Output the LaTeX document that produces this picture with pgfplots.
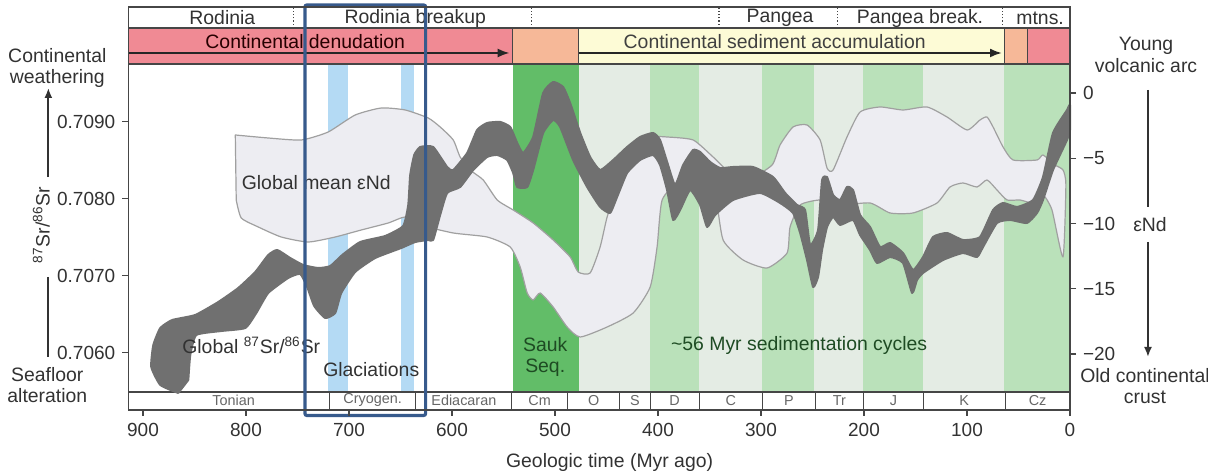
\documentclass[border=0pt]{standalone}
\usepackage{fontspec}
\setmainfont{Liberation Sans}
\usepackage{pgfplots}
\pgfplotsset{compat=1.18}
\usetikzlibrary{arrows.meta}

\definecolor{srgray}{RGB}{112,112,112}
\definecolor{ndfill}{RGB}{237,237,242}
\definecolor{ndline}{RGB}{160,160,160}
\definecolor{glacier}{RGB}{180,218,244}
\definecolor{sauk}{RGB}{98,189,104}
\definecolor{stripeL}{RGB}{228,236,228}
\definecolor{stripeG}{RGB}{186,225,186}
\definecolor{denud}{RGB}{240,138,148}
\definecolor{salmon}{RGB}{246,184,152}
\definecolor{accum}{RGB}{253,251,214}
\definecolor{hlblue}{RGB}{55,90,140}
\definecolor{axgray}{RGB}{70,70,70}
\definecolor{txtgray}{RGB}{50,50,50}
\definecolor{greentxt}{RGB}{30,75,35}

\newcommand\lbl{\fontsize{9.7}{10.6}\selectfont}
\newcommand\sml{\fontsize{7.2}{8}\selectfont}

\begin{document}
\begin{tikzpicture}
\useasboundingbox (-64.15pt,-32.5pt) rectangle (539.85pt,205pt);

% ---- axis 1: eNd (backgrounds, eNd band, header, periods, right ticks)
\begin{axis}[
  at={(0,0)}, anchor=south west,
  width=470.85pt, height=201.5pt, scale only axis,
  xmin=0, xmax=914.3, x dir=reverse,
  ymin=-24.291, ymax=6.590,
  hide x axis, axis y line*=right,
  ytick={-20,-15,-10,-5,0},
  yticklabels={−20,−15,−10,−5,0},
  tick align=outside, major tick length=3pt,
  every tick/.style={axgray, line width=0.6pt},
  y axis line style={axgray, line width=0.6pt},
  every tick label/.append style={font=\fontsize{9.5}{10}\selectfont, text=txtgray},
  clip=false,
]
% plot area background
\fill[white] (914.3,-22.912) rectangle (0,2.222);
\fill[glacier] (720.2,-22.912) rectangle (700.8,2.222);
\fill[glacier] (649.3,-22.912) rectangle (636.7,2.222);
\fill[sauk] (541,-22.912) rectangle (476.9,2.222);
\fill[stripeL] (476.9,-22.912) rectangle (407.6,2.222);
\fill[stripeG] (407.6,-22.912) rectangle (360,2.222);
\fill[stripeL] (360,-22.912) rectangle (298.6,2.222);
\fill[stripeG] (298.6,-22.912) rectangle (249,2.222);
\fill[stripeL] (249,-22.912) rectangle (201,2.222);
\fill[stripeG] (201,-22.912) rectangle (143,2.222);
\fill[stripeL] (143,-22.912) rectangle (64,2.222);
\fill[stripeG] (64,-22.912) rectangle (0,2.222);

% global mean eNd envelope
\addplot[fill=ndfill, draw=ndline, line width=0.6pt, line join=round, smooth, tension=0.35] coordinates {
 (810.4,-3.218) (778.4,-3.448) (746.4,-3.601) (720.2,-2.988) (694.0,-1.686) (668.7,-1.150)
 (645.4,-1.303) (623.1,-1.916) (611.5,-2.605) (598.8,-3.601) (592.1,-4.904) (582.4,-5.900)
 (569.7,-6.666) (556.1,-8.199) (540.6,-8.965) (521.2,-9.961) (501.8,-11.264) (485.3,-12.567)
 (477.5,-13.717) (465.9,-13.793) (456.2,-11.801) (449.4,-9.501) (441.6,-7.816) (431.9,-5.900)
 (417.4,-3.984) (402.8,-3.371) (391.2,-3.371) (365.9,-3.601) (346.5,-4.904) (332.9,-5.900)
 (310.6,-6.513) (289.2,-5.517) (281.5,-3.984) (268.9,-2.605) (255.3,-2.452) (242.6,-3.601)
 (235.9,-5.747) (230.0,-5.900) (216.5,-3.371) (203.8,-1.456) (184.4,-1.073) (162.1,-1.303)
 (138.8,-1.073) (119.4,-1.839) (99.9,-2.835) (87.4,-2.069) (80.6,-1.839) (74.7,-2.605)
 (65.0,-4.138) (55.3,-5.134) (32.0,-5.134) (26.2,-4.751) (14.6,-5.517) (6.8,-5.900) (4.0,-7.05)
 (6.8,-12.567) (17.5,-8.965)
 (26.2,-7.816) (35.9,-8.429) (48.5,-8.199) (61.1,-8.199) (70.9,-7.433) (80.6,-6.666)
 (90.3,-7.203) (103.9,-6.896) (116.5,-7.203) (129.1,-8.429) (152.4,-9.195) (174.7,-9.195)
 (194.1,-8.429) (223.2,-8.582) (242.6,-8.199) (262.0,-8.582) (271.8,-10.268) (274.7,-12.261)
 (294.1,-13.410) (317.4,-12.797) (336.8,-11.264) (344.5,-7.816) (359.1,-6.666) (378.5,-6.666)
 (396.0,-8.199) (400.9,-11.801) (407.6,-14.866) (424.1,-16.858) (449.4,-17.931) (475.5,-18.697)
 (488.2,-17.931) (501.8,-16.399) (514.4,-15.326) (521.2,-15.862) (527.0,-15.326) (533.8,-13.333)
 (543.5,-11.801) (565.9,-11.034) (598.8,-10.728) (630.9,-10.115) (645.4,-9.501) (661.9,-9.961)
 (688.1,-10.498) (713.4,-11.034) (739.6,-11.418) (765.8,-11.034) (788.1,-10.268) (804.6,-9.578)
 (809.5,-8.199)
} -- cycle;

% header row 1
\fill[white] (914.3,4.981) rectangle (0,6.590);
\draw[axgray, line width=0.5pt] (914.3,4.981) -- (0,4.981);
\pgfplotsinvokeforeach{754,522.9,340.7,225.4,65.6}{
  \draw[axgray, line width=0.6pt, densely dotted] (#1,4.981) -- (#1,6.590);
}
\node[font=\lbl, text=txtgray] at (823,5.747) {Rodinia};
\node[font=\lbl, text=txtgray] at (635.7,5.747) {Rodinia breakup};
\node[font=\lbl, text=txtgray] at (281.5,5.747) {Pangea};
\node[font=\lbl, text=txtgray] at (145.6,5.747) {Pangea break.};
\node[font=\lbl, text=txtgray] at (29,5.747) {mtns.};

% header row 2
\fill[denud] (914.3,2.222) rectangle (541,4.981);
\fill[salmon] (541,2.222) rectangle (476.9,4.981);
\fill[accum] (476.9,2.222) rectangle (64,4.981);
\fill[salmon] (64,2.222) rectangle (41.7,4.981);
\fill[denud] (41.7,2.222) rectangle (0,4.981);
\draw[axgray, line width=0.6pt] (914.3,2.222) -- (0,2.222);
\draw[axgray, line width=0.6pt] (914.3,4.981) -- (0,4.981);
\pgfplotsinvokeforeach{541,476.9,64,41.7}{
  \draw[axgray, line width=0.4pt] (#1,2.222) -- (#1,4.981);
}
\draw[black!85, line width=1.1pt, -{Latex[length=6pt,width=4.5pt]}] (914.3,3.065) -- (544,3.065);
\draw[black!85, line width=1.1pt, -{Latex[length=6pt,width=4.5pt]}] (476.9,3.065) -- (66,3.065);
\node[font=\lbl, text=black!75!red!60!black] at (742.5,3.95) {Continental denudation};
\node[font=\lbl, text=black!75] at (286.7,3.95) {Continental sediment accumulation};

% period row
\fill[white] (914.3,-24.291) rectangle (0,-22.912);
\draw[axgray, line width=0.6pt] (914.3,-22.912) -- (0,-22.912);
\pgfplotsinvokeforeach{719,635,542,488,437,407.6,360,298.6,247,200.6,142.4,63}{
  \draw[axgray, line width=0.5pt] (#1,-24.291) -- (#1,-22.912);
}
\node[font=\sml, text=black!60] at (812,-23.55) {Tonian};
\node[font=\sml, text=black!60] at (677,-23.55) {Cryogen.};
\node[font=\sml, text=black!60] at (588.5,-23.55) {Ediacaran};
\node[font=\sml, text=black!60] at (515,-23.55) {Cm};
\node[font=\sml, text=black!60] at (462.5,-23.55) {O};
\node[font=\sml, text=black!60] at (422.3,-23.55) {S};
\node[font=\sml, text=black!60] at (383.8,-23.55) {D};
\node[font=\sml, text=black!60] at (329.3,-23.55) {C};
\node[font=\sml, text=black!60] at (272.8,-23.55) {P};
\node[font=\sml, text=black!60] at (223.8,-23.55) {Tr};
\node[font=\sml, text=black!60] at (171.5,-23.55) {J};
\node[font=\sml, text=black!60] at (102.7,-23.55) {K};
\node[font=\sml, text=black!60] at (31.5,-23.55) {Cz};
\end{axis}

% ---- axis 2: 87Sr/86Sr (Sr band, labels, frame, left and bottom ticks)
\begin{axis}[
  at={(0,0)}, anchor=south west,
  width=470.85pt, height=201.5pt, scale only axis,
  xmin=0, xmax=914.3, x dir=reverse,
  ymin=0.705255, ymax=0.710489,
  xtick={0,100,...,900},
  ytick={0.706,0.707,0.708,0.709},
  scaled y ticks=false,
  yticklabel style={/pgf/number format/fixed, /pgf/number format/zerofill,
    /pgf/number format/precision=4},
  /pgf/number format/assume math mode=true,
  tick pos=left, tick align=outside, major tick length=3pt,
  every tick/.style={axgray, line width=0.6pt},
  axis line style={axgray, line width=0.6pt},
  every tick label/.append style={font=\fontsize{9.5}{10}\selectfont, text=txtgray},
  axis on top, clip=false,
]
% global seawater 87Sr/86Sr band
\addplot[fill=srgray, draw=srgray, line width=1pt, line join=round, smooth, tension=0.3] coordinates {
 (865.8,0.705476) (883.2,0.705580) (892.0,0.705814) (890.0,0.706099) (883.2,0.706320)
 (871.6,0.706424) (849.3,0.706489) (826.9,0.706658) (807.5,0.706840) (791.0,0.707048)
 (778.4,0.707268) (769.7,0.707333) (757.1,0.707229) (744.4,0.707138) (729.9,0.707099)
 (718.2,0.707125) (706.6,0.707268) (689.1,0.707437) (664.9,0.707515) (647.4,0.707645)
 (642.5,0.707918) (640.6,0.708307) (636.7,0.708567) (630.9,0.708671) (618.3,0.708671)
 (604.7,0.708411) (598.8,0.708372) (585.3,0.708593) (575.6,0.708892) (565.9,0.708983)
 (553.2,0.708996) (543.5,0.708931) (536.7,0.708723) (530.9,0.708593) (521.2,0.708801)
 (511.5,0.709372) (501.8,0.709515) (492.1,0.709450) (485.3,0.709242) (475.5,0.708853)
 (465.9,0.708541) (456.2,0.708372) (443.5,0.708502) (430.0,0.708671) (417.4,0.708801)
 (404.7,0.708853) (398.0,0.708762) (390.2,0.708437) (383.4,0.708177) (375.6,0.708437)
 (365.9,0.708632) (359.1,0.708606) (349.4,0.708476) (339.7,0.708398) (327.1,0.708411)
 (307.7,0.708411) (288.3,0.708281) (276.6,0.708074) (265.0,0.707918) (257.2,0.707853)
 (252.3,0.707398) (244.6,0.707593) (240.7,0.708242) (235.9,0.708281) (230.0,0.708048)
 (223.2,0.707983) (216.5,0.708151) (210.6,0.708112) (203.8,0.707788) (194.1,0.707632)
 (184.4,0.707372) (174.7,0.707424) (162.1,0.707294) (152.4,0.707074) (142.7,0.707242)
 (133.0,0.707502) (119.4,0.707554) (103.9,0.707463) (87.4,0.707502) (74.7,0.707853)
 (65.0,0.707944) (51.4,0.707892) (35.9,0.707983) (26.2,0.708281) (16.5,0.708853)
 (2.9,0.709151) (0,0.709216)
 (0,0.708892) (2.9,0.708762) (16.5,0.708372) (26.2,0.707983) (32.0,0.707814)
 (41.7,0.707684) (58.2,0.707723) (70.9,0.707684) (84.4,0.707372) (90.3,0.707242)
 (103.9,0.707294) (123.3,0.707203) (142.7,0.707035) (148.5,0.706944) (153.3,0.706775)
 (162.1,0.707164) (174.7,0.707242) (187.3,0.707164) (194.1,0.707333) (203.8,0.707528)
 (210.6,0.707723) (223.2,0.707658) (230.0,0.707762) (235.9,0.707632) (240.7,0.707333)
 (244.6,0.706983) (249.4,0.706853) (255.3,0.707203) (262.0,0.707554) (268.9,0.707814)
 (281.5,0.707944) (300.9,0.708074) (327.1,0.707983) (344.5,0.707788) (352.3,0.707632)
 (359.1,0.707918) (368.8,0.708112) (378.5,0.707853) (385.3,0.707723) (391.2,0.708112)
 (398.0,0.708437) (404.7,0.708567) (417.4,0.708502) (430.0,0.708333) (439.7,0.708022)
 (446.5,0.707814) (456.2,0.707892) (468.8,0.708151) (482.4,0.708502) (495.0,0.708931)
 (501.8,0.709022) (511.5,0.708853) (521.2,0.708372) (527.0,0.708151) (536.7,0.708151)
 (540.6,0.708333) (546.4,0.708502) (556.1,0.708567) (565.9,0.708541) (579.4,0.708372)
 (592.1,0.708151) (604.7,0.708074) (611.5,0.707788) (618.3,0.707463) (623.1,0.707463)
 (635.7,0.707437) (649.3,0.707359) (674.6,0.707229) (694.0,0.707048) (707.5,0.706775)
 (713.4,0.706515) (723.1,0.706450) (733.8,0.706606) (740.6,0.706853) (747.4,0.707022)
 (759.0,0.706970) (778.4,0.706775) (790.0,0.706515) (800.7,0.706320) (824.0,0.706281)
 (848.3,0.706229) (854.1,0.705970) (856.0,0.705645)
} -- cycle;

% in-plot labels
\node[font=\lbl, text=txtgray] at (731.8,0.708203) {Global mean εNd};
\node[font=\lbl, text=txtgray] at (794.9,0.706099) {Global \textsuperscript{87}Sr/\textsuperscript{86}Sr};
\node[font=\lbl, text=txtgray] at (678.4,0.705775) {Glaciations};
\node[font=\lbl, text=greentxt, align=center] at (509.5,0.705944) {Sauk\\Seq.};
\node[font=\lbl, text=greentxt] at (263,0.706099) {\textasciitilde56 Myr sedimentation cycles};

% left side labels
\node[font=\lbl, text=txtgray, align=center] at (983.2,0.709697) {Continental\\weathering};
\draw[txtgray, line width=0.9pt, -{Latex[length=5pt,width=4pt]}] (991.9,0.708281) -- (991.9,0.709437);
\node[font=\lbl, text=txtgray, rotate=90] at (998.7,0.707658) {\textsuperscript{87}Sr/\textsuperscript{86}Sr};
\draw[txtgray, line width=0.9pt] (991.9,0.706983) -- (991.9,0.705944);
\node[font=\lbl, text=txtgray, align=center] at (992.9,0.705580) {Seafloor\\alteration};

% right side labels
\node[font=\lbl, text=txtgray, align=center] at (-73.8,0.709866) {Young\\volcanic arc};
\draw[txtgray, line width=0.9pt] (-75.7,0.709411) -- (-75.7,0.707892);
\node[font=\lbl, text=txtgray] at (-77.7,0.707658) {εNd};
\draw[txtgray, line width=0.9pt, -{Latex[length=5pt,width=4pt]}] (-75.7,0.707437) -- (-75.7,0.705944);
\node[font=\lbl, text=txtgray, align=center] at (-72.8,0.705567) {Old continental\\crust};

% x axis title
\node[font=\lbl, text=txtgray] at (447,0.704567) {Geologic time (Myr ago)};

% highlight frame
\draw[hlblue, line width=1.6pt, rounded corners=1pt] (742.8,0.705184) rectangle (625.6,0.710515);
\end{axis}
\end{tikzpicture}
\end{document}
